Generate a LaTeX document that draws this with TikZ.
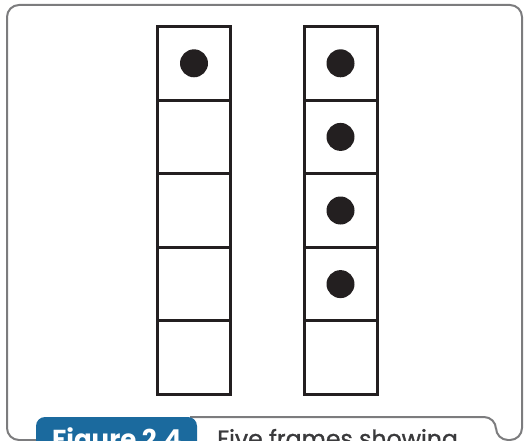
\documentclass[tikz,border=0pt]{standalone}
\usepackage{fontspec}
\usetikzlibrary{positioning}
\setsansfont{Poppins}
\newfontfamily\captionfont[FakeBold=1.2]{Poppins}
\definecolor{framegray}{HTML}{7C7C7E}
\definecolor{tabblue}{HTML}{1B6A9E}
\definecolor{inkblack}{HTML}{231F20}
\definecolor{captext}{HTML}{3A3A3C}

\begin{document}
\begin{tikzpicture}[x=1pt, y=-1pt,
    cell/.style={draw=inkblack, line width=3pt, minimum width=73pt,
      minimum height=73.6pt, inner sep=0pt, outer sep=0pt},
    counter/.style={fill=inkblack}]
  % page size of the reference, cut at the bottom
  \useasboundingbox (0,0) rectangle (524,441);
  \clip (0,0) rectangle (524,441);

  % outer panel with the caption notch
  \draw[framegray, line width=2pt, rounded corners=12pt]
    (40,440) -- (7,440) -- (7,5) -- (522,5) -- (522,440)
    -- (496,440) -- (496,417) -- (190,417);

  % caption tab
  \fill[tabblue, rounded corners=9pt] (36,417) rectangle (197,480);
  \node[anchor=base west, inner sep=0pt, text=white,
    font=\sffamily\bfseries\fontsize{26}{30}\selectfont] (fignum) at (52,448) {Figure 2.4};
  \node[anchor=base west, inner sep=0pt, text=captext,
    font=\captionfont\fontsize{23.6}{28}\selectfont] (figtitle) at (217,447) {Five frames showing};

  % two five-frames
  \node[cell] (l1) at (194,63.3) {};
  \node[cell] (r1) at (340.5,63.3) {};
  \foreach \i [count=\j from 2] in {1,...,4} {
    \node[cell, below=0pt of l\i] (l\j) {};
    \node[cell, below=0pt of r\i] (r\j) {};
  }

  % counters: one on the left, four on the right
  \fill[counter] (l1) circle (14);
  \foreach \i in {1,...,4}
    \fill[counter] (r\i) circle (14);
\end{tikzpicture}
\end{document}
